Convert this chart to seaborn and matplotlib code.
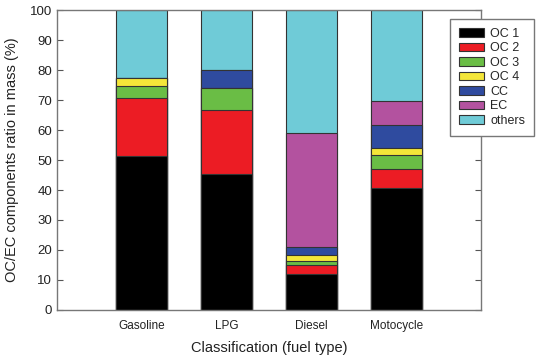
import numpy as np
import pandas as pd
import seaborn as sns
import matplotlib.pyplot as plt
from matplotlib.patches import Patch

fuels = ['Gasoline', 'LPG', 'Diesel', 'Motocycle']
components = ['OC 1', 'OC 2', 'OC 3', 'OC 4', 'CC', 'EC', 'others']

oc1 = [51.3, 45.2, 12.0, 40.6]
oc2 = [19.3, 21.4, 2.9, 6.4]
oc3 = [4.2, 7.5, 1.4, 4.6]
oc4 = [2.4, 0.0, 1.9, 2.4]
cc = [0.0, 5.9, 2.9, 7.8]
ec = [0.0, 0.0, 37.8, 8.0]
others = [22.8, 20.0, 41.1, 30.2]

colors = ['#000000', '#ec1c24', '#6abd45', '#f4e639', '#2f4b9f', '#b3529f', '#6fcbd7']

sns.set_style('ticks')
plt.rcParams['font.family'] = ['Liberation Sans', 'DejaVu Sans']

df = pd.DataFrame({'fuel': fuels, 'OC 1': oc1, 'OC 2': oc2, 'OC 3': oc3, 'OC 4': oc4,
                   'CC': cc, 'EC': ec, 'others': others})
cum = df[components].cumsum(axis=1)

fig = plt.figure(figsize=(5.37, 3.6), dpi=100)
ax = fig.add_axes([0.106, 0.139, 0.79, 0.833])

# draw cumulative totals from the top down so each layer covers the next
for name, col in reversed(list(zip(components, colors))):
    sns.barplot(x=df['fuel'], y=cum[name], color=col, width=0.6, saturation=1,
                edgecolor='#333333', linewidth=0.8, ax=ax)

ax.set_xlim(-1, 4)
ax.set_ylim(0, 100)
ax.set_yticks(np.arange(0, 101, 10))
ax.tick_params(axis='y', direction='in', right=True, length=4, color='#555555',
               labelsize=9.5, labelcolor='#222222')
ax.tick_params(axis='x', length=0, labelsize=8.5, labelcolor='#222222', pad=7)
for s in ax.spines.values():
    s.set_color('#777777')
    s.set_linewidth(1.0)
    s.set_visible(True)

ax.set_xlabel('Classification (fuel type)', fontsize=10.5, color='#222222', labelpad=7)
ax.set_ylabel('OC/EC components ratio in mass (%)', fontsize=10.5, color='#222222', labelpad=8)

handles = [Patch(facecolor=c, edgecolor='#333333', linewidth=0.8) for c in colors]
leg = fig.legend(handles, components, loc='upper left', bbox_to_anchor=(0.838, 0.947),
                 bbox_transform=fig.transFigure, fontsize=9, frameon=True, fancybox=False,
                 framealpha=1, edgecolor='#777777', handlelength=2.0, handleheight=0.7,
                 handletextpad=0.5, labelspacing=0.2, borderpad=0.7, borderaxespad=0)
leg.get_frame().set_linewidth(1.0)

fig.savefig('out.png', dpi=100)
